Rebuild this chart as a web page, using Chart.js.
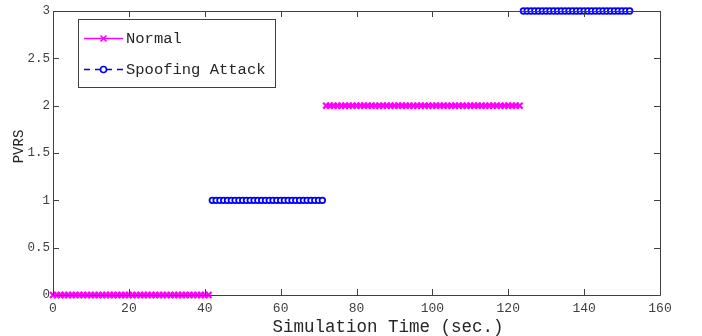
<!DOCTYPE html>
<html>
<head>
<meta charset="utf-8">
<script src="https://cdn.jsdelivr.net/npm/chart.js@4.4.1/dist/chart.umd.min.js"></script>
<style>
  html, body { margin: 0; padding: 0; background: #fff; }
  #wrap { width: 702px; height: 336px; }
</style>
</head>
<body>
<div id="wrap"><canvas id="pvrsChart" width="702" height="336"></canvas></div>
<script>
// simulation time (sec.) and PVRS for each phase
const normalTimeA = [0,1,2,3,4,5,6,7,8,9,10,11,12,13,14,15,16,17,18,19,20,21,22,23,24,25,26,27,28,29,30,31,32,33,34,35,36,37,38,39,40,41];
const spoofTimeA = [42,43,44,45,46,47,48,49,50,51,52,53,54,55,56,57,58,59,60,61,62,63,64,65,66,67,68,69,70,71];
const normalTimeB = [72,73,74,75,76,77,78,79,80,81,82,83,84,85,86,87,88,89,90,91,92,93,94,95,96,97,98,99,100,101,102,103,104,105,106,107,108,109,110,111,112,113,114,115,116,117,118,119,120,121,122,123];
const spoofTimeB = [124,125,126,127,128,129,130,131,132,133,134,135,136,137,138,139,140,141,142,143,144,145,146,147,148,149,150,151,152];

const normalLevelA = 0;
const spoofLevelA = 1;
const normalLevelB = 2;
const spoofLevelB = 3;

const xTicks = [0, 20, 40, 60, 80, 100, 120, 140, 160];
const yTicks = [0, 0.5, 1, 1.5, 2, 2.5, 3];
const yTickLabels = ['0', '0.5', '1', '1.5', '2', '2.5', '3'];

const seriesNames = ['Normal', 'Spoofing Attack'];
const xTitle = 'Simulation Time (sec.)';
const yTitle = 'PVRS';

const MAGENTA = '#ff00ff';
const BLUE = '#0000ff';
const AXIS = '#404040';
const FONT = '"Liberation Mono", "DejaVu Sans Mono", monospace';

function toPoints(times, level) {
    return times.map(t => ({ x: t, y: level }));
}

// MATLAB style box with inward ticks, legend and axis titles
const boxPlugin = {
    id: 'boxPlugin',
    afterDraw(chart) {
        const ctx = chart.ctx;
        const a = chart.chartArea;
        const xs = chart.scales.x;
        const ys = chart.scales.y;
        ctx.save();
        ctx.strokeStyle = AXIS;
        ctx.lineWidth = 1;
        ctx.beginPath();
        ctx.rect(Math.round(a.left) + 0.5, Math.round(a.top) + 0.5, Math.round(a.right - a.left), Math.round(a.bottom - a.top));
        ctx.stroke();
        ctx.beginPath();
        xTicks.forEach(v => {
            const px = Math.round(xs.getPixelForValue(v)) + 0.5;
            ctx.moveTo(px, a.bottom); ctx.lineTo(px, a.bottom - 6);
            ctx.moveTo(px, a.top); ctx.lineTo(px, a.top + 6);
        });
        yTicks.forEach(v => {
            const py = Math.round(ys.getPixelForValue(v)) + 0.5;
            ctx.moveTo(a.left, py); ctx.lineTo(a.left + 6, py);
            ctx.moveTo(a.right, py); ctx.lineTo(a.right - 6, py);
        });
        ctx.stroke();

        // axis titles
        ctx.fillStyle = '#262626';
        ctx.textAlign = 'center';
        ctx.textBaseline = 'middle';
        ctx.font = '17.5px ' + FONT;
        ctx.fillText(xTitle, 388, 327);
        ctx.save();
        ctx.translate(19, 146.5);
        ctx.rotate(-Math.PI / 2);
        ctx.font = '14px ' + FONT;
        ctx.fillText(yTitle, 0, 0);
        ctx.restore();

        // legend
        const lx = 78, ly = 19, lw = 197, lh = 68;
        ctx.fillStyle = '#fff';
        ctx.fillRect(lx, ly, lw, lh);
        ctx.strokeStyle = AXIS;
        ctx.strokeRect(lx + 0.5, ly + 0.5, lw, lh);

        ctx.font = '15.5px ' + FONT;
        ctx.textAlign = 'left';
        ctx.textBaseline = 'middle';
        ctx.fillStyle = '#262626';

        // Normal
        let y0 = 38.5;
        ctx.strokeStyle = MAGENTA;
        ctx.lineWidth = 1.3;
        ctx.beginPath(); ctx.moveTo(84, y0); ctx.lineTo(123, y0); ctx.stroke();
        ctx.lineWidth = 1.6;
        ctx.beginPath();
        ctx.moveTo(100.5, y0 - 3); ctx.lineTo(106.5, y0 + 3);
        ctx.moveTo(106.5, y0 - 3); ctx.lineTo(100.5, y0 + 3);
        ctx.stroke();
        ctx.fillText(seriesNames[0], 126, y0);

        // Spoofing Attack
        y0 = 69.5;
        ctx.strokeStyle = BLUE;
        ctx.lineWidth = 1.3;
        ctx.setLineDash([6, 5]);
        ctx.beginPath(); ctx.moveTo(84, y0); ctx.lineTo(123, y0); ctx.stroke();
        ctx.setLineDash([]);
        ctx.lineWidth = 1.6;
        ctx.fillStyle = '#fff';
        ctx.beginPath(); ctx.arc(103.5, y0, 3, 0, Math.PI * 2); ctx.fill(); ctx.stroke();
        ctx.fillStyle = '#262626';
        ctx.fillText(seriesNames[1], 126, y0);
        ctx.restore();
    }
};

const normalStyle = {
    showLine: true, borderColor: MAGENTA, backgroundColor: MAGENTA,
    borderWidth: 1.3, pointStyle: 'crossRot', pointRadius: 4.2, pointBorderWidth: 2.2
};
const spoofStyle = {
    showLine: true, borderColor: BLUE, backgroundColor: '#ffffff',
    borderWidth: 1.3, borderDash: [5, 4], pointStyle: 'circle', pointRadius: 2.8, pointBorderWidth: 1.8
};

new Chart(document.getElementById('pvrsChart'), {
    type: 'scatter',
    data: {
        datasets: [
            Object.assign({ label: seriesNames[0], data: toPoints(normalTimeA, normalLevelA) }, normalStyle),
            Object.assign({ label: seriesNames[1], data: toPoints(spoofTimeA, spoofLevelA) }, spoofStyle),
            Object.assign({ label: seriesNames[0], data: toPoints(normalTimeB, normalLevelB) }, normalStyle),
            Object.assign({ label: seriesNames[1], data: toPoints(spoofTimeB, spoofLevelB) }, spoofStyle)
        ]
    },
    options: {
        responsive: false,
        animation: false,
        clip: false,
        layout: { padding: { left: 0, right: 42, top: 11, bottom: 0 } },
        plugins: { legend: { display: false }, tooltip: { enabled: false } },
        scales: {
            x: {
                type: 'linear', min: 0, max: 160,
                afterFit(scale) { scale.height = 41; },
                afterBuildTicks(scale) { scale.ticks = xTicks.map(v => ({ value: v })); },
                grid: { display: false, drawTicks: false, tickLength: 0 },
                border: { display: false },
                ticks: { color: '#404040', font: { family: FONT, size: 13 }, padding: 6, maxRotation: 0 }
            },
            y: {
                type: 'linear', min: 0, max: 3,
                afterFit(scale) { scale.width = 53; },
                afterBuildTicks(scale) { scale.ticks = yTicks.map(v => ({ value: v })); },
                grid: { display: false, drawTicks: false, tickLength: 0 },
                border: { display: false },
                ticks: {
                    color: '#404040', font: { family: FONT, size: 12.5 }, padding: 3,
                    callback: (v) => yTickLabels[yTicks.indexOf(v)]
                }
            }
        }
    },
    plugins: [boxPlugin]
});
</script>
</body>
</html>
